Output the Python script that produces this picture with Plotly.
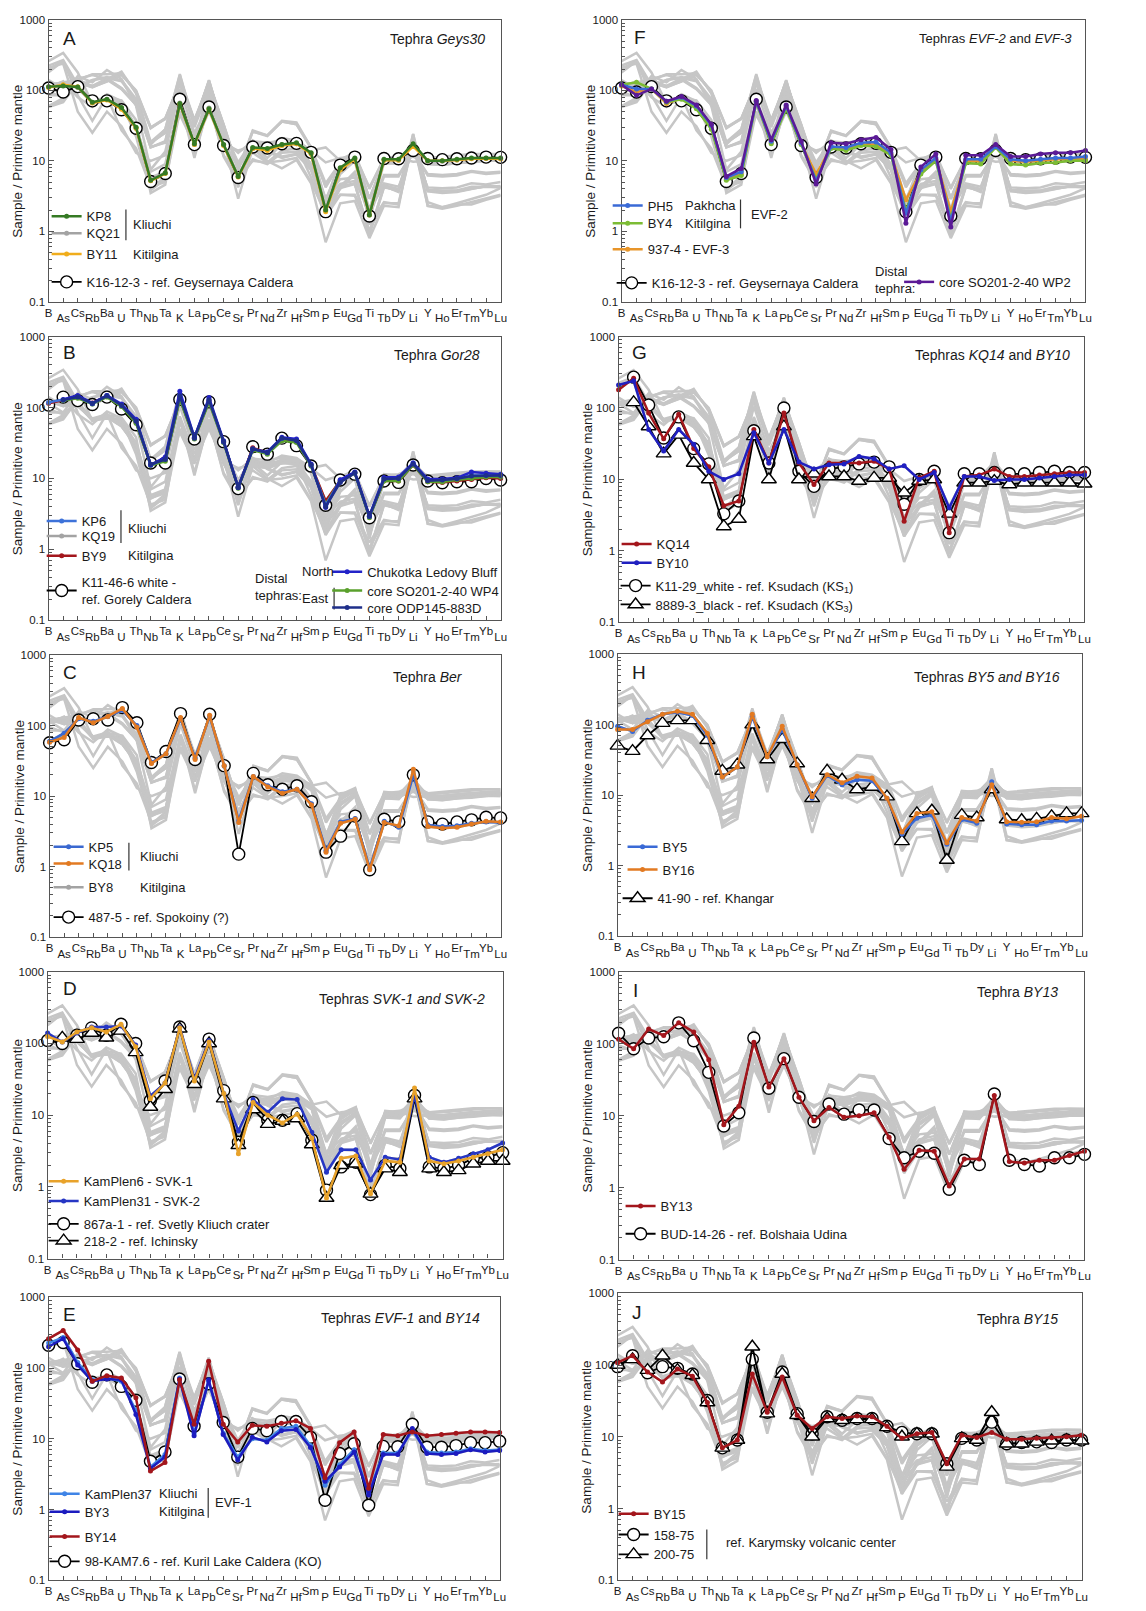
import plotly.graph_objects as go

W, H = 1146, 1611
FONT = "Liberation Sans, Arial, sans-serif"
AX = "#555555"
TXT = "#1a1a1a"
GREY_BG = "#c6c6c6"

ELEMENTS = ["B", "As", "Cs", "Rb", "Ba", "U", "Th", "Nb", "Ta", "K", "La", "Pb",
            "Ce", "Sr", "Pr", "Nd", "Zr", "Hf", "Sm", "P", "Eu", "Gd", "Ti", "Tb",
            "Dy", "Li", "Y", "Ho", "Er", "Tm", "Yb", "Lu"]

# ---- Primitive-mantle normalised concentrations (order as ELEMENTS) ----
# Geys30
KP8 = [113, 115, 112, 68, 75, 57, 30, 5.3, 6.7, 65, 17.5, 55, 17, 6.0, 15.5, 15, 17, 18, 13, 2.0, 8.0, 11, 1.7, 10.5, 10.5, 17.5, 10, 10, 10.5, 11, 11, 11]
KQ21 = [112, 118, 110, 67, 74, 55, 29, 5.4, 6.8, 66, 17, 56, 17, 6.1, 15, 14.5, 17, 17.5, 12.8, 2.0, 7.8, 10.8, 1.75, 10.3, 10.3, 17, 10, 9.9, 10.3, 10.8, 10.9, 10.8]
BY11 = [110, 120, 113, 66, 73, 54, 29, 5.2, 6.6, 64, 17, 54, 16.5, 5.9, 15, 14, 16.5, 17.5, 12.5, 1.9, 7.5, 10.5, 1.7, 10.2, 10.2, 16, 10, 10, 10.3, 10.7, 10.8, 10.6]
K16_12_3 = [108, 95, 113, 71, 71, 53, 29, 5.1, 6.6, 75, 17, 58, 16.5, 5.8, 15.7, 15.2, 17.5, 17.7, 13.2, 1.9, 8.7, 11.3, 1.65, 10.8, 10.7, 14, 10.8, 10.4, 10.7, 11, 11.3, 11.2]
# Gor28
KP6 = [118, 128, 142, 113, 148, 108, 66, 15.5, 19, 150, 38, 130, 33, 7.6, 26, 23, 37, 35, 15.5, 4.2, 9.2, 12, 2.9, 10, 10.3, 16.5, 9.6, 9.7, 10, 11, 11.2, 11.2]
KQ19 = [116, 125, 138, 112, 142, 104, 62, 15.8, 18, 135, 37, 122, 32, 7.4, 26, 22.5, 36, 33, 15, 4.4, 9, 11.8, 2.9, 9.6, 9.6, 16, 9.3, 9.2, 9.6, 10.2, 10.6, 10.6]
BY9 = [115, 126, 140, 116, 146, 106, 62, 15.5, 18.5, 138, 37, 125, 33, 7.5, 27, 23, 36, 33, 15.5, 4.8, 9.3, 12, 2.9, 9.3, 9.2, 15.5, 9, 8.8, 9.2, 9.7, 10.2, 10]
CHUKOTKA = [None, 130, 148, 115, 148, 112, 68, 15.5, 20, 170, 38, 138, 34, 7.5, 26, 23.5, 38, 36, 16, 3.9, 9.6, 12.3, 3.0, 10.3, 10.5, 16.5, 9.8, 9.8, 10.2, 12.3, 11.8, 11.5]
WP4 = [None, 125, 135, 112, 140, 103, 60, 15.2, 17.5, 130, 36, 118, 32, 7.3, 25, 22, 34, 32, 15, 4.3, 9.5, 11.8, 2.8, 9.2, 9.2, 15.5, 9, 8.9, 9.6, 10, 10.5, 10.5]
ODP883D = [None, 127, 140, 114, 145, 107, 64, 15.8, 18.5, 145, 37, 128, 33, 7.4, 26, 23, 37, 34, 15.5, 4.0, 8.8, 12, 2.9, 9.8, 10, 16, 9.3, 9.5, 9.9, 10.8, 11, 11]
K11_46_6 = [108, 140, 125, 110, 140, 95, 57, 16.5, 16.5, 130, 36, 120, 33, 7.2, 28, 22, 37, 29, 15, 4.2, 9.5, 11.5, 2.8, 9.2, 8.8, 15.5, 9.2, 8.7, 9, 9, 10, 9.5]
# Ber
KP5 = [60, 78, 125, 115, 135, 165, 100, 30, 40, 125, 35, 135, 27, 4.5, 19, 14, 11.5, 12.5, 7.8, 1.7, 4.3, 4.8, 0.95, 4.4, 3.6, 20, 3.9, 3.7, 3.8, 4.1, 4.3, 4.2]
KQ18 = [58, 68, 130, 110, 135, 175, 95, 29, 40, 130, 33, 140, 27, 4.2, 19, 13.5, 11, 12.5, 7.5, 1.6, 4.1, 4.7, 0.9, 4.2, 3.8, 24, 3.7, 3.5, 3.6, 4.0, 4.4, 4.3]
BY8 = [59, 72, 128, 112, 133, 170, 97, 29.5, 39, 128, 34, 138, 26.5, 4.3, 18.5, 13.8, 11.2, 12.3, 7.6, 1.65, 4.2, 4.75, 0.92, 4.3, 3.7, 22, 3.8, 3.6, 3.7, 4.05, 4.35, 4.25]
S487_5 = [57, 63, 120, 125, 120, 180, 110, 30, 43, 148, 33, 145, 27, 1.5, 21, 14.5, 12.5, 14, 8.3, 1.6, 2.7, 5.2, 0.9, 4.7, 4.3, 20, 4.3, 4.0, 4.3, 4.6, 5.0, 4.9]
# SVK-1 / SVK-2
KAMPLEN6 = [125, 105, 145, 165, 145, 185, 90, 17, 28, 165, 30, 105, 20, 2.9, 15, 10, 7.8, 10.3, 4.8, 0.7, 2.5, 2.7, 0.8, 2.3, 2.2, 24, 2.3, 2.1, 2.3, 2.6, 2.9, 3.3]
KAMPLEN31 = [140, 105, 140, 170, 170, 175, 95, 18.5, 28, 170, 32, 110, 20, 6, 16.5, 11, 17, 16.5, 5.8, 1.6, 3.3, 3.3, 1.25, 2.6, 2.4, 19, 2.6, 2.2, 2.5, 2.9, 3.3, 4.1]
S867A_1 = [110, 100, 130, 165, 130, 185, 100, 16, 30, 170, 30, 115, 22, 4.2, 15, 8.5, 8.5, 10.5, 4.5, 0.9, 1.9, 2.2, 0.78, 2.0, 1.8, 19, 1.9, 1.8, 2.0, 2.5, 2.6, 3.0]
S218_2 = [None, 120, 115, 140, 120, 150, 75, 13, 23, 160, 27, 100, 17, 3.8, 12, 7.5, 8.3, 9, 3.9, 0.7, 2.0, 2.1, 0.8, 1.8, 1.6, 17, 1.8, 1.6, 1.7, 2.1, 2.3, 2.3]
# EVF-1 / BY14
KAMPLEN37 = [225, 270, 120, 68, 72, 65, 25, 4.0, 6.0, 72, 12, 65, 12, 5.5, 10, 9.5, 14, 15, 8, 2.2, 4.3, 7, 1.7, 6.3, 6.3, 13, 6.5, 6.3, 6.5, 7.2, 6.8, 7]
BY3 = [200, 260, 110, 65, 70, 68, 22, 3.8, 5.5, 70, 11, 68, 11.5, 5.0, 10.5, 9, 13, 13.5, 7.5, 2.5, 4.0, 6.5, 1.6, 6, 6, 14, 6.2, 6, 6.2, 7, 6.5, 6.8]
BY14 = [260, 340, 180, 65, 78, 72, 38, 3.5, 4.6, 68, 16, 125, 16, 9, 15.5, 15, 16.5, 18, 14, 2.8, 8.8, 12.5, 2.0, 11.5, 11, 12.5, 11, 11.5, 12, 12.5, 12.5, 12.3]
KAM7_6 = [210, 230, 115, 63, 80, 55, 35, 4.8, 6.5, 70, 15, 60, 17, 5.5, 14, 13, 17.5, 17.5, 10.5, 1.35, 6.2, 8.5, 1.15, 7.8, 7.7, 16, 7.6, 7.6, 8, 8.8, 8.8, 9.2]
# EVF-2 / EVF-3
PH5 = [120, 105, 105, 70, 80, 60, 32, 5.8, 7, 70, 19, 60, 18, 5.2, 16, 15.5, 18, 18.5, 13, 1.8, 7.5, 11, 1.4, 10.5, 10.5, 16, 10.5, 10, 10.5, 11, 11, 11.5]
BY4 = [120, 130, 105, 68, 75, 55, 28, 5.3, 6.2, 68, 17.5, 55, 17, 5.5, 15, 14, 16.5, 16, 12, 2.0, 6.5, 10, 1.5, 9.3, 9, 15.5, 9, 8.7, 9.3, 9.5, 10, 10]
S937_4 = [115, 95, 105, 65, 78, 57, 30, 5.5, 6.5, 70, 18, 58, 17.5, 6.5, 15.5, 15, 17, 17, 12.5, 2.8, 7, 10.5, 1.9, 10, 9.8, 16.5, 10, 9.7, 10, 10.5, 10.5, 10.5]
WP2 = [120, 85, 105, 70, 82, 62, 33, 6, 7.8, 72, 20, 62, 19, 4.7, 18, 17.5, 20, 21.5, 14.5, 1.3, 8.2, 12.5, 1.15, 12, 12, 17, 11.5, 11.5, 12.5, 13, 13, 14]
# KQ14 / BY10
KQ14 = [180, 260, 85, 37, 82, 27, 15, 4.3, 5, 50, 17, 85, 17, 8.5, 17, 17, 17, 18, 14, 2.6, 10.5, 13, 1.8, 11, 11.5, 14, 11, 11, 11.5, 12, 12.5, 12.5]
BY10 = [210, 240, 50, 25, 50, 31, 13, 10, 12, 45, 17, 50, 17.5, 14, 16, 16.5, 21, 19.5, 14, 15.5, 10, 12.5, 4, 11, 11, 9.7, 10, 10, 10.5, 11, 11.5, 11.5]
K11_29 = [None, 270, 110, 38, 75, 27, 16.5, 3.3, 5, 48, 17, 100, 13, 8, 14, 15, 16.5, 17.5, 15, 4.5, 10, 13, 1.8, 12, 12, 12.5, 12, 12, 12.5, 13, 12.5, 12.5]
S8889_3 = [None, 120, 55, 23, 42, 17, 10, 2.2, 2.8, 40, 10, 55, 10, 12, 11, 11, 9.5, 10.5, 10.5, 6.5, 9.5, 10, 3.3, 9, 9, 9.5, 8.5, 9, 9, 9, 9, 8.7]
# BY5 / BY16
BY5 = [95, 80, 115, 140, 150, 135, 70, 18, 25, 130, 35, 85, 27, 9, 19, 14, 16.5, 16, 9, 2.8, 4.7, 5.2, 2.0, 4.5, 4.0, 15.5, 3.9, 3.8, 3.8, 4.3, 4.3, 4.4]
BY16 = [85, 85, 110, 140, 155, 140, 75, 18, 25, 140, 35, 95, 27, 9.5, 19.5, 15, 18.5, 17.5, 9, 3.0, 5.5, 5.8, 2.1, 4.8, 4.3, 14, 4.2, 4.1, 4.2, 4.8, 4.6, 5]
S41_90 = [50, 42, 70, 105, 115, 115, 60, 22, 27, 100, 32, 62, 28, 9, 22, 16.5, 12, 13, 9.5, 2.2, 5.5, 6, 1.2, 5.2, 4.8, 12, 4.5, 4.4, 4.6, 5, 5.5, 5.5]
# BY13
BY13 = [115, 85, 160, 130, 195, 145, 60, 7.5, 13.5, 105, 25, 62, 18, 8.5, 13, 9.5, 10, 11, 5, 1.8, 3.3, 3.2, 1.05, 2.5, 2.5, 19, 2.3, 2.2, 2.4, 2.4, 2.8, 3.2]
BUD_14_26 = [140, 85, 120, 125, 195, 110, 40, 7.2, 11, 120, 24, 62, 18, 8.3, 14.5, 10.5, 12, 12, 4.8, 2.6, 3.2, 3.0, 0.95, 2.4, 2.1, 20, 2.4, 2.1, 2.0, 2.6, 2.6, 2.9]
# BY15
BY15 = [108, 135, 80, 58, 88, 70, 30, 7, 9, 75, 22, 68, 20, 13, 19, 18, 19.5, 19, 14, 9.5, 11, 11.5, 4.2, 10.5, 9.8, 11.5, 9.2, 9.2, 9.5, 9.7, 10, 10.5]
S158_75 = [95, 135, 78, 95, 90, 75, 32, 7, 9, 120, 22, 80, 21, 11, 19, 17, 18, 18, 14, 11.5, 11, 11, 4.2, 9.5, 9, 16, 8, 8.3, 8.5, 8.3, 9, 9]
S200_75 = [100, 120, 85, 135, 85, 72, 30, 7, 9, 180, 21, 75, 20, 10, 18, 17, 17.5, 17.5, 13.5, 10, 11, 11, 3.8, 9.5, 9, 22, 8, 8, 8.5, 8.8, 9, 8.8]

# all proximal tephra samples form the grey background field of every panel
BACKGROUND = [KP8, KQ21, BY11, KP6, KQ19, BY9, KP5, KQ18, BY8, KAMPLEN6, KAMPLEN31,
              KAMPLEN37, BY3, BY14, PH5, BY4, KQ14, BY10, BY5, BY16, BY13, BY15]

RED = "#a3161c"
PANELS = [
    dict(letter="A", lpos=(57, 33), title="Tephra <i>Geys30</i>", tpos=(487, 33), tsize=14,
         box=(45, 14, 501, 298),
         refs=[(K16_12_3, "circle", "K16-12-3 - ref. Geysernaya Caldera", (85, 278))],
         samples=[(KQ21, "#a3a3a3", "KQ21", (85, 229)), (BY11, "#f0ad1c", "BY11", (85, 250)),
                  (KP8, "#357a24", "KP8", (85, 212))],
         notes=[("Kliuchi", 128, 220), ("Kitilgina", 128, 250)],
         bars=[(123, 205, 236)]),
    dict(letter="B", lpos=(57, 349), title="Tephra <i>Gor28</i>", tpos=(482, 352), tsize=14,
         box=(45, 333, 501, 619),
         refs=[(K11_46_6, "circle", "K11-46-6 white -<br>ref. Gorely Caldera", (80, 589))],
         samples=[(KQ19, "#a3a3a3", "KQ19", (80, 534)), (BY9, RED, "BY9", (80, 554)),
                  (WP4, "#5aa02c", "core SO201-2-40 WP4", (368, 589)),
                  (KP6, "#3d72d9", "KP6", (80, 519)),
                  (CHUKOTKA, "#2323c8", "Chukotka Ledovy Bluff", (368, 570)),
                  (ODP883D, "#1f2f8a", "core ODP145-883D", (368, 606))],
         notes=[("Kliuchi", 123, 526), ("Kitilgina", 123, 554), ("Distal<br>tephras:", 251, 585),
                ("North", 299, 570), ("East", 299, 597)],
         bars=[(118, 508, 541), (333, 586, 608)]),
    dict(letter="C", lpos=(57, 672), title="Tephra <i>Ber</i>", tpos=(465, 676), tsize=14,
         box=(46, 654, 501, 938),
         refs=[(S487_5, "circle", "487-5 - ref. Spokoiny (?)", (87, 918))],
         samples=[(BY8, "#a3a3a3", "BY8", (87, 888)), (KP5, "#3a68d0", "KP5", (87, 847)),
                  (KQ18, "#e27a22", "KQ18", (87, 864))],
         notes=[("Kliuchi", 135, 857), ("Kitilgina", 135, 888)],
         bars=[(126, 843, 871)]),
    dict(letter="D", lpos=(57, 990), title="Tephras <i>SVK-1 and SVK-2</i>", tpos=(487, 1000), tsize=14,
         box=(44, 973, 503, 1262),
         refs=[(S867A_1, "circle", "867a-1 - ref. Svetly Kliuch crater", (82, 1227)),
               (S218_2, "triangle-up", "218-2 - ref. Ichinsky", (82, 1244))],
         samples=[(KAMPLEN31, "#2636c4", "KamPlen31 - SVK-2", (82, 1204)),
                  (KAMPLEN6, "#e8a22a", "KamPlen6 - SVK-1", (82, 1184))],
         notes=[], bars=[]),
    dict(letter="E", lpos=(57, 1318), title="Tephras <i>EVF-1</i> and <i>BY14</i>", tpos=(482, 1322), tsize=14,
         box=(45, 1301, 500, 1586),
         refs=[(KAM7_6, "circle", "98-KAM7.6 - ref. Kuril Lake Caldera (KO)", (83, 1567))],
         samples=[(KAMPLEN37, "#3f84e6", "KamPlen37", (83, 1499)), (BY3, "#1c1cbf", "BY3", (83, 1517)),
                  (BY14, RED, "BY14", (83, 1542))],
         notes=[("Kliuchi", 154, 1499), ("Kitilgina", 154, 1517), ("EVF-1", 211, 1508)],
         bars=[(206, 1493, 1523)]),
    dict(letter="F", lpos=(634, 32), title="Tephras <i>EVF-2</i> and <i>EVF-3</i>", tpos=(1079, 33), tsize=13,
         box=(623, 14, 1091, 298),
         refs=[(K16_12_3, "circle", "K16-12-3 - ref. Geysernaya Caldera", (655, 279))],
         samples=[(S937_4, "#e8952a", "937-4 - EVF-3", (651, 245)), (BY4, "#7cbc34", "BY4", (651, 219)),
                  (PH5, "#3a6ad6", "PH5", (651, 201)),
                  (WP2, "#5b1a96", "core SO201-2-40 WP2", (945, 278))],
         notes=[("Pakhcha", 685, 201), ("Kitilgina", 685, 219), ("EVF-2", 752, 210),
                ("Distal<br>tephra:", 877, 276)],
         bars=[(743, 195, 224)]),
    dict(letter="G", lpos=(632, 349), title="Tephras <i>KQ14</i> and <i>BY10</i>", tpos=(1077, 352), tsize=14,
         box=(620, 333, 1090, 621),
         refs=[(K11_29, "circle", "K11-29_white - ref. Ksudach (KS<sub>1</sub>)", (659, 584)),
               (S8889_3, "triangle-up", "8889-3_black - ref. Ksudach (KS<sub>3</sub>)", (659, 603))],
         samples=[(KQ14, RED, "KQ14", (660, 542)), (BY10, "#2020c0", "BY10", (660, 561))],
         notes=[], bars=[]),
    dict(letter="H", lpos=(632, 672), title="Tephras <i>BY5 and BY16</i>", tpos=(1067, 676), tsize=14,
         box=(619, 653, 1087, 937),
         refs=[(S41_90, "triangle-up", "41-90 - ref. Khangar", (661, 899))],
         samples=[(BY5, "#3a6ad6", "BY5", (666, 847)), (BY16, "#e27a22", "BY16", (666, 870))],
         notes=[], bars=[]),
    dict(letter="I", lpos=(633, 992), title="Tephra <i>BY13</i>", tpos=(1065, 993), tsize=14,
         box=(620, 973, 1090, 1263),
         refs=[(BUD_14_26, "circle", "BUD-14-26 - ref. Bolshaia Udina", (664, 1237))],
         samples=[(BY13, RED, "BY13", (664, 1209))],
         notes=[], bars=[]),
    dict(letter="J", lpos=(632, 1316), title="Tephra <i>BY15</i>", tpos=(1065, 1323), tsize=14,
         box=(619, 1297, 1087, 1586),
         refs=[(S158_75, "circle", "158-75", (657, 1540)), (S200_75, "triangle-up", "200-75", (657, 1560))],
         samples=[(BY15, RED, "BY15", (657, 1519))],
         notes=[("ref. Karymsky volcanic center", 726, 1548)],
         bars=[(709, 1535, 1565)]),
]


def fx(x):
    return x / W


def fy(y):
    return 1 - y / H


X = list(range(len(ELEMENTS)))
odd = [i for i in X if i % 2 == 1]
minor_vals = [m * 10 ** e for e in range(-1, 3) for m in range(2, 10)]
TICKFONT = dict(size=11.5, color=TXT)

fig = go.Figure()
layout = dict(width=W, height=H, margin=dict(l=0, r=0, t=0, b=0),
              paper_bgcolor="white", plot_bgcolor="white", showlegend=True,
              font=dict(family=FONT, color=TXT, size=13))
annotations, shapes = [], []
legend_count = 0


def legend_for(pos):
    """One small legend per entry, placed at its text position."""
    global legend_count
    legend_count += 1
    key = "legend" if legend_count == 1 else f"legend{legend_count}"
    layout[key] = dict(x=fx(pos[0] - 42), y=fy(pos[1]), xanchor="left", yanchor="middle",
                       bgcolor="rgba(0,0,0,0)", borderwidth=0, itemwidth=30,
                       font=dict(size=13, family=FONT, color=TXT),
                       itemclick=False, itemdoubleclick=False)
    return key


for n, p in enumerate(PANELS, start=1):
    l, t, r, b = p["box"]
    xid = "x" if n == 1 else f"x{n}"
    yid = "y" if n == 1 else f"y{n}"
    oid = f"x{n + 10}"
    xkey = "xaxis" if n == 1 else f"xaxis{n}"
    ykey = "yaxis" if n == 1 else f"yaxis{n}"
    okey = f"xaxis{n + 10}"

    # main x axis: frame, all tick marks, upper row of element labels
    layout[xkey] = dict(domain=[fx(l), fx(r)], anchor=yid, range=[0, len(ELEMENTS) - 1],
                        tickmode="array", tickvals=X,
                        ticktext=[ELEMENTS[i] if i % 2 == 0 else " " for i in X],
                        ticks="inside", ticklen=4, tickwidth=1, tickcolor=AX,
                        showline=True, linecolor=AX, linewidth=1.3, mirror=True,
                        showgrid=False, zeroline=False, ticklabelstandoff=0,
                        tickfont=TICKFONT)
    # overlaid x axis: lower row of element labels; carries the sample curves
    layout[okey] = dict(overlaying=xid, anchor=yid, range=[0, len(ELEMENTS) - 1],
                        tickmode="array", tickvals=odd, ticktext=[ELEMENTS[i] for i in odd],
                        ticks="", showline=False, showgrid=False, zeroline=False,
                        ticklabelstandoff=8, side="bottom", tickfont=TICKFONT)
    layout[ykey] = dict(domain=[fy(b), fy(t)], anchor=xid, type="log", range=[-1, 3],
                        tickmode="array", tickvals=[0.1, 1, 10, 100, 1000],
                        ticktext=["0.1", "1", "10", "100", "1000"],
                        ticks="inside", ticklen=5, tickwidth=1, tickcolor=AX,
                        minor=dict(tickmode="array", tickvals=minor_vals, ticks="inside",
                                   ticklen=3, tickcolor=AX, showgrid=False),
                        showline=True, linecolor=AX, linewidth=1.3, mirror=True,
                        showgrid=False, zeroline=False, tickfont=dict(size=11.5, color=TXT))

    # grey field of all tephra samples
    for vals in BACKGROUND:
        fig.add_trace(go.Scatter(x=X, y=vals, xaxis=xid, yaxis=yid, mode="lines",
                                 line=dict(color=GREY_BG, width=2.5), showlegend=False,
                                 hoverinfo="skip", cliponaxis=False))

    # reference samples (black, open symbols)
    for vals, sym, name, pos in p["refs"]:
        fig.add_trace(go.Scatter(x=X, y=vals, xaxis=oid, yaxis=yid, mode="lines+markers",
                                 name=name, legend=legend_for(pos),
                                 line=dict(color="black", width=1.8),
                                 marker=dict(symbol=sym, size=12 if sym == "circle" else 13,
                                             color="white", line=dict(color="black", width=1.4)),
                                 cliponaxis=False))
    # studied tephra samples
    for vals, col, name, pos in p["samples"]:
        fig.add_trace(go.Scatter(x=X, y=vals, xaxis=oid, yaxis=yid, mode="lines+markers",
                                 name=name, legend=legend_for(pos),
                                 line=dict(color=col, width=2.5),
                                 marker=dict(symbol="circle", size=5, color=col),
                                 cliponaxis=False))

    # panel letter, title, y-axis title
    annotations.append(dict(text=p["letter"], x=fx(p["lpos"][0]), y=fy(p["lpos"][1]),
                            xref="paper", yref="paper", xanchor="left", yanchor="middle",
                            showarrow=False, font=dict(size=19, color=TXT)))
    annotations.append(dict(text=p["title"], x=fx(p["tpos"][0]), y=fy(p["tpos"][1]),
                            xref="paper", yref="paper", xanchor="right", yanchor="middle",
                            showarrow=False, font=dict(size=p["tsize"], color=TXT)))
    annotations.append(dict(text="Sample / Primitive mantle", textangle=-90,
                            x=fx(l - 31), y=fy((t + b) / 2), xref="paper", yref="paper",
                            xanchor="center", yanchor="middle", showarrow=False,
                            font=dict(size=13.5, color=TXT)))
    for text, nx, ny in p["notes"]:
        annotations.append(dict(text=text, x=fx(nx), y=fy(ny), xref="paper", yref="paper",
                                xanchor="left", yanchor="middle", align="left",
                                showarrow=False, font=dict(size=13, color=TXT)))
    for bx, by0, by1 in p["bars"]:
        shapes.append(dict(type="line", xref="paper", yref="paper",
                           x0=fx(bx), x1=fx(bx), y0=fy(by0), y1=fy(by1),
                           line=dict(color="#333333", width=1.2)))

layout["annotations"] = annotations
layout["shapes"] = shapes
fig.update_layout(**layout)
fig.write_html("out.html")
